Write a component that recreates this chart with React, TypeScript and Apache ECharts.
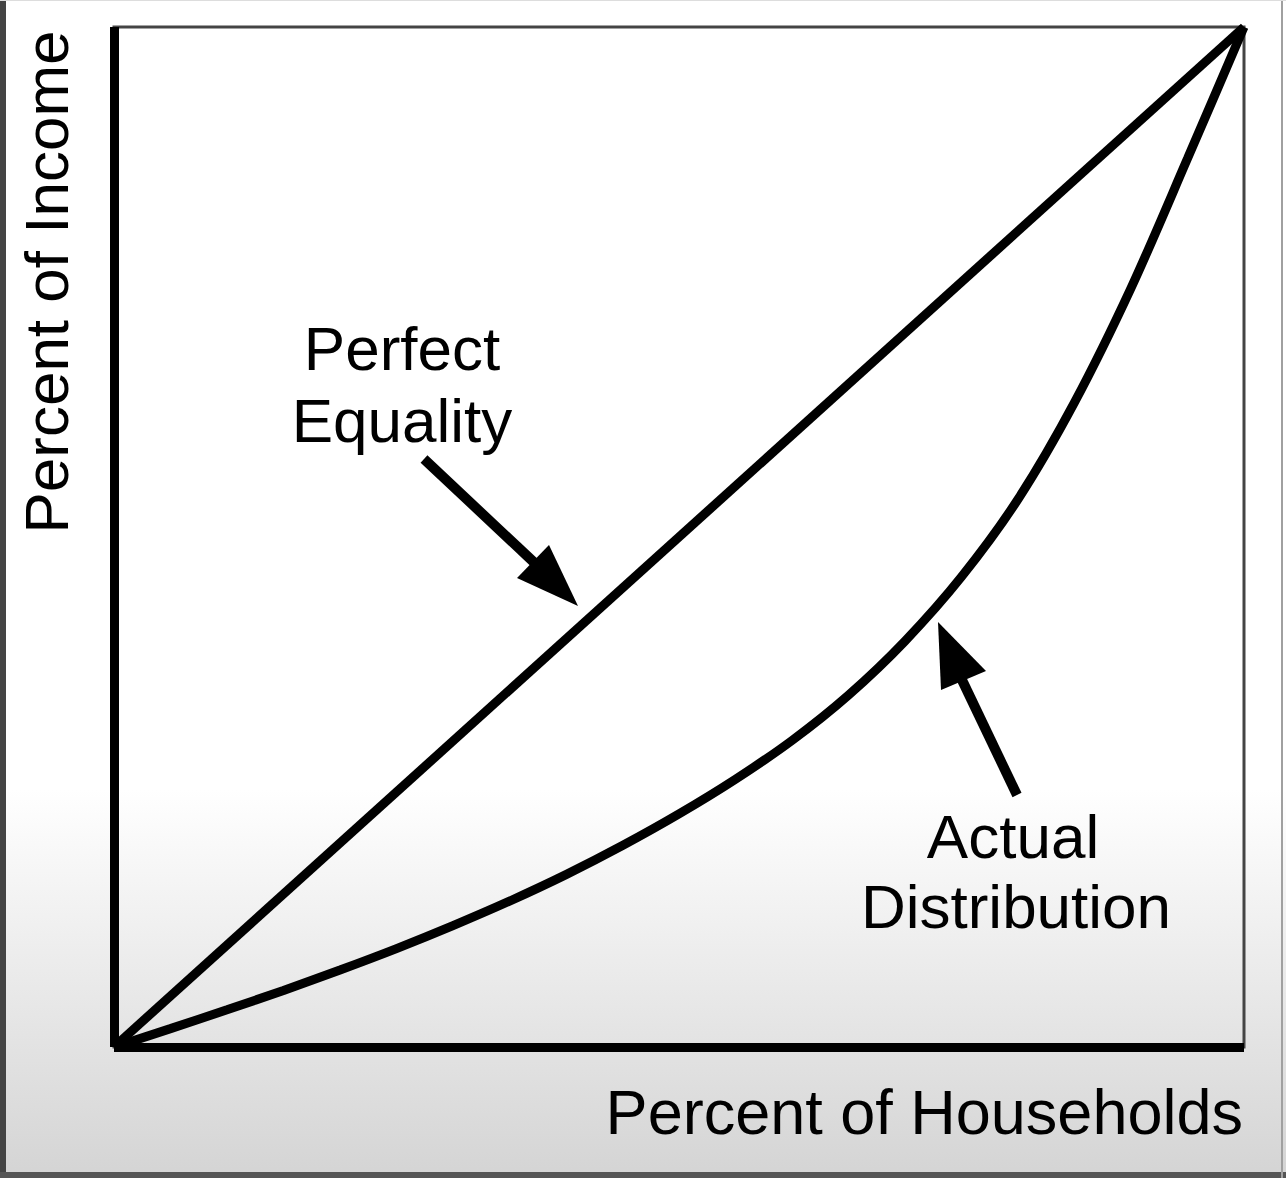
import React, { useEffect, useRef } from "react";
import * as echarts from "echarts";

// Percent of households (x) and cumulative percent of income (y)
const equalityX = [0, 100];
const equalityY = [0, 100];
const actualX = [0, 5, 10, 15, 20, 25, 30, 35, 40, 45, 50, 55, 60, 65, 70, 75, 80, 85, 90, 95, 100];
const actualY = [0, 1.8, 3.65, 5.55, 7.55, 9.65, 11.9, 14.3, 16.9, 19.75, 22.85, 26.25, 30.05, 34.5, 39.8, 46.1, 53.7, 63.2, 74.4, 87.1, 100];

const xTitle = "Percent of Households";
const yTitle = "Percent of Income";
const equalityLabel = ["Perfect", "Equality"];
const actualLabel = ["Actual", "Distribution"];

const FONT = "'Liberation Sans', Arial, Helvetica, sans-serif";

export default function App() {
  const ref = useRef<HTMLDivElement>(null);
  useEffect(() => {
    if (!ref.current) return;
    const chart = echarts.init(ref.current, null, { renderer: "svg" });
    const txt = (text: string, x: number, y: number, size: number, align: string, rotation = 0) => ({
      type: "text",
      x,
      y,
      rotation,
      style: {
        text,
        fill: "#000",
        font: `${size}px ${FONT}`,
        fontSize: size,
        fontFamily: FONT,
        align,
        verticalAlign: "middle",
      },
    });
    chart.setOption({
      animation: false,
      backgroundColor: "transparent",
      grid: {
        left: 114,
        right: 42,
        top: 27,
        bottom: 131,
        show: true,
        borderColor: "#444",
        borderWidth: 3,
      },
      xAxis: {
        type: "value",
        min: 0,
        max: 100,
        axisLine: { show: true, onZero: false, lineStyle: { color: "#000", width: 9, cap: "butt" } },
        axisTick: { show: false },
        axisLabel: { show: false },
        splitLine: { show: false },
      },
      yAxis: {
        type: "value",
        min: 0,
        max: 100,
        axisLine: { show: true, onZero: false, lineStyle: { color: "#000", width: 9, cap: "butt" } },
        axisTick: { show: false },
        axisLabel: { show: false },
        splitLine: { show: false },
      },
      series: [
        {
          name: "Perfect Equality",
          type: "line",
          data: equalityX.map((x, i) => [x, equalityY[i]]),
          showSymbol: false,
          clip: false,
          lineStyle: { color: "#000", width: 9 },
        },
        {
          name: "Actual Distribution",
          type: "line",
          data: actualX.map((x, i) => [x, actualY[i]]),
          smooth: 0.3,
          showSymbol: false,
          clip: false,
          lineStyle: { color: "#000", width: 9 },
        },
      ],
      graphic: [
        { type: "rect", shape: { x: 0, y: 0, width: 6, height: 1178 }, style: { fill: "#444" } },
        { type: "rect", shape: { x: 0, y: 1172, width: 1286, height: 6 }, style: { fill: "#555" } },
        { type: "rect", shape: { x: 1281, y: 0, width: 2, height: 1178 }, style: { fill: "#a0a0a0" } },
        { type: "rect", shape: { x: 0, y: 0, width: 1286, height: 1 }, style: { fill: "#ddd" } },
        // arrow to perfect equality
        {
          type: "line",
          shape: { x1: 424, y1: 459, x2: 540, y2: 568 },
          style: { stroke: "#000", lineWidth: 10 },
        },
        {
          type: "polygon",
          shape: { points: [[578, 606], [517, 578], [549, 545]] },
          style: { fill: "#000" },
        },
        // arrow to actual distribution
        {
          type: "line",
          shape: { x1: 1017, y1: 795, x2: 962, y2: 680 },
          style: { stroke: "#000", lineWidth: 10 },
        },
        {
          type: "polygon",
          shape: { points: [[938, 622], [941, 690], [986, 671]] },
          style: { fill: "#000" },
        },
        txt(equalityLabel[0], 402, 348, 62, "center"),
        txt(equalityLabel[1], 402, 420, 62, "center"),
        txt(actualLabel[0], 1013, 836, 62, "center"),
        txt(actualLabel[1], 1016, 906, 62, "center"),
        txt(xTitle, 1243, 1112, 63, "right"),
        txt(yTitle, 46, 282, 62, "center", Math.PI / 2),
      ],
    });
    return () => chart.dispose();
  }, []);
  return (
    <div
      ref={ref}
      style={{
        position: "fixed",
        left: 0,
        top: 0,
        width: 1286,
        height: 1178,
        background: "linear-gradient(to bottom, #ffffff 0%, #ffffff 67%, #d4d4d4 100%)",
      }}
    />
  );
}
